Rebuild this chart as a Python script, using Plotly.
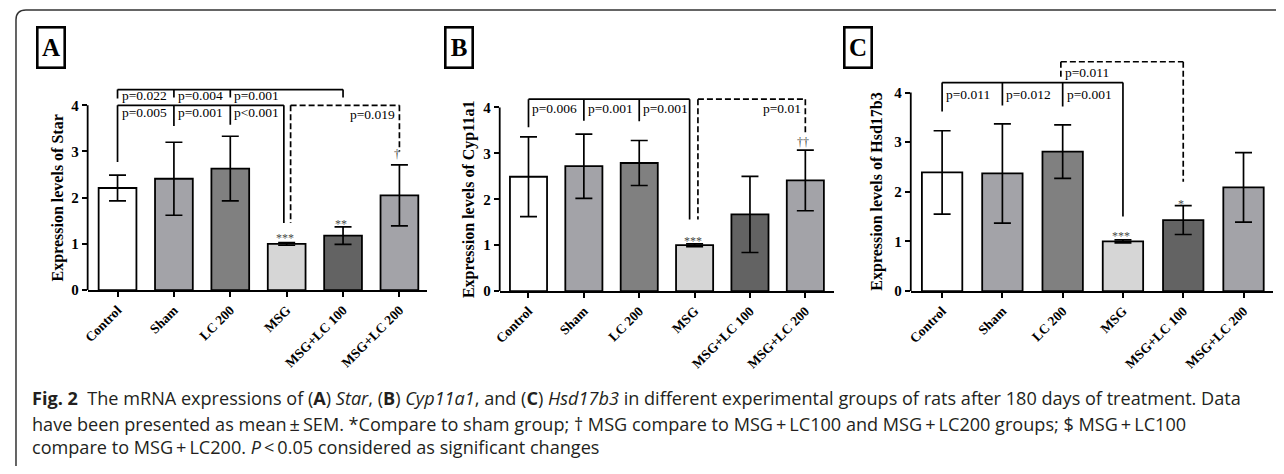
import plotly.graph_objects as go

# ---------------- data ----------------
categories = ["Control", "Sham", "LC 200", "MSG", "MSG+LC 100", "MSG+LC 200"]
star_mean = [2.21, 2.41, 2.63, 1.00, 1.18, 2.05]
star_sem = [0.28, 0.79, 0.70, 0.03, 0.19, 0.66]
cyp_mean = [2.49, 2.72, 2.79, 1.00, 1.67, 2.41]
cyp_sem = [0.87, 0.70, 0.49, 0.03, 0.83, 0.66]
hsd_mean = [2.39, 2.37, 2.81, 1.00, 1.43, 2.09]
hsd_sem = [0.84, 1.00, 0.54, 0.03, 0.29, 0.70]
y_ticks = [0, 1, 2, 3, 4]
bar_colors = ["#ffffff", "#a3a3a8", "#808080", "#d6d6d6", "#636363", "#a3a3a8"]

# page body has an 8px margin: the figure is placed at (8, 8)
OFF = 8
W, H = 1284 - OFF, 474 - OFF
SERIF = "Liberation Serif, Times New Roman, serif"
SANS = "Open Sans, Noto Sans, sans-serif"


def px(x):
    return (x - OFF) / W


def py(y):
    return 1 - (y - OFF) / H


fig = go.Figure()

# panel geometry (screen pixels): x-axis start/end, y of 0, px per unit
panels = [
    dict(name="A", gene="Star", mean=star_mean, sem=star_sem,
         x0=82, x1=423, y0=295, unit=47.0, xr=[-0.53, 5.49], letter_x=45, title_x=52),
    dict(name="B", gene="Cyp11a1", mean=cyp_mean, sem=cyp_sem,
         x0=496, x1=832, y0=296, unit=46.7, xr=[-0.52, 5.52], letter_x=455.5, title_x=465),
    dict(name="C", gene="Hsd17b3", mean=hsd_mean, sem=hsd_sem,
         x0=909, x1=1273, y0=296, unit=50.5, xr=[-0.52, 5.49], letter_x=856, title_x=875),
]
YMAX = 4.75

shapes = []
annotations = []

for i, p in enumerate(panels):
    sfx = "" if i == 0 else str(i + 1)
    xa, ya = "x" + sfx, "y" + sfx
    fig.add_trace(go.Bar(
        x=categories, y=p["mean"], xaxis=xa, yaxis=ya, width=0.67,
        marker=dict(color=bar_colors, line=dict(color="black", width=1.8)),
        error_y=dict(type="data", array=p["sem"], visible=True, color="black",
                     thickness=1.7, width=8.5),
        showlegend=False, hoverinfo="skip",
    ))
    top_px = p["y0"] - YMAX * p["unit"]
    fig.update_layout(**{
        "xaxis" + sfx: dict(domain=[px(p["x0"]), px(p["x1"])], anchor=ya,
                            range=p["xr"], showline=True, linecolor="black", linewidth=1.8,
                            ticks="outside", ticklen=5, tickwidth=1.7, tickcolor="black",
                            tickangle=-45, showgrid=False, zeroline=False,
                            tickfont=dict(family=SERIF, size=13.5, color="black", weight="bold")),
        "yaxis" + sfx: dict(domain=[py(p["y0"]), py(top_px)], anchor=xa,
                            range=[0, YMAX], tickvals=y_ticks, showline=False, showgrid=False,
                            zeroline=False, ticks="outside", ticklen=5, tickwidth=1.7,
                            tickcolor="black",
                            tickfont=dict(family=SERIF, size=15, color="black", weight="bold")),
    })
    # y axis line from 0 to 4
    shapes.append(dict(type="line", xref=xa + " domain", yref=ya, x0=0, x1=0, y0=0, y1=4,
                       line=dict(color="black", width=1.8)))
    # y title
    annotations.append(dict(text="Expression levels of " + p["gene"], xref="paper", yref="paper",
                            x=px(p["title_x"]), y=py(p["y0"] - 2 * p["unit"]), textangle=-90,
                            showarrow=False, xanchor="center", yanchor="middle",
                            font=dict(family=SERIF, size=16, color="black", weight="bold")))
    # panel letter
    annotations.append(dict(text="<b>" + p["name"] + "</b>", xref="paper", yref="paper",
                            x=px(p["letter_x"]), y=py(48), showarrow=False,
                            xanchor="center", yanchor="middle", width=24, height=37,
                            bordercolor="black", borderwidth=2.6, borderpad=0.5,
                            font=dict(family=SERIF, size=25, color="black")))


def bracket(i, y, xs, ends, dash="solid"):
    """Horizontal line at y spanning xs[0]..xs[-1], vertical drops to ends."""
    sfx = "" if i == 0 else str(i + 1)
    xa, ya = "x" + sfx, "y" + sfx
    shapes.append(dict(type="line", xref=xa, yref=ya, x0=xs[0], x1=xs[-1], y0=y, y1=y,
                       line=dict(color="black", width=1.7, dash=dash)))
    for x, e in zip(xs, ends):
        shapes.append(dict(type="line", xref=xa, yref=ya, x0=x, x1=x, y0=y, y1=e,
                           line=dict(color="black", width=1.7, dash=dash)))


def label(i, x, y, text, anchor="left", size=13.5, color="black", xshift=2):
    sfx = "" if i == 0 else str(i + 1)
    annotations.append(dict(text=text, xref="x" + sfx, yref="y" + sfx, x=x, y=y,
                            showarrow=False, xanchor=anchor, yanchor="middle",
                            xshift=xshift if anchor == "left" else -xshift,
                            font=dict(family=SERIF, size=size, color=color)))


DASH = "6px,3px"
MARK = "#4a4a4a"

# ---- Panel A ----
bracket(0, 4.34, [0, 1, 2, 4], [4.15, 4.17, 4.17, 4.17])
bracket(0, 4.0, [0, 1, 2, 2.95], [2.77, 3.55, 3.58, 1.45])
bracket(0, 4.0, [3.07, 5], [1.45, 3.0], dash=DASH)
for x, t in zip([0, 1, 2], ["p=0.022", "p=0.004", "p=0.001"]):
    label(0, x, 4.21, t)
for x, t in zip([0, 1, 2], ["p=0.005", "p=0.001", "p<0.001"]):
    label(0, x, 3.84, t)
label(0, 5, 3.81, "p=0.019", anchor="right")
label(0, 3, 1.12, "***", anchor="center", size=12, color=MARK)
label(0, 4, 1.42, "**", anchor="center", size=12, color=MARK)
label(0, 5, 2.95, "†", anchor="center", size=12, color=MARK)

# ---- Panel B ----
bracket(1, 4.18, [0, 1, 2, 2.91], [3.57, 3.71, 3.70, 1.56])
bracket(1, 4.18, [3.06, 5], [1.56, 3.41], dash=DASH)
for x, t in zip([0, 1, 2], ["p=0.006", "p=0.001", "p=0.001"]):
    label(1, x, 3.98, t)
label(1, 5, 3.98, "p=0.01", anchor="right")
label(1, 3, 1.09, "***", anchor="center", size=12, color=MARK)
label(1, 5, 3.25, "††", anchor="center", size=12, color=MARK)

# ---- Panel C ----
bracket(2, 4.2, [0, 1, 2, 3], [3.62, 3.74, 3.72, 1.5])
bracket(2, 4.62, [1.97, 4], [4.3, 2.2], dash=DASH)
label(2, 1.97, 4.41, "p=0.011")
for x, t in zip([0, 1, 2], ["p=0.011", "p=0.012", "p=0.001"]):
    label(2, x, 3.97, t)
label(2, 3, 1.1, "***", anchor="center", size=12, color=MARK)
label(2, 4, 1.76, "*", anchor="center", size=12, color=MARK)

# ---- frame ----
r = 10
frame_path = (f"M {px(10)},{py(474)} L {px(10)},{py(10 + r)} "
              f"Q {px(10)},{py(10)} {px(10 + r)},{py(10)} L {px(1284)},{py(10)}")
shapes.append(dict(type="path", xref="paper", yref="paper", path=frame_path,
                   line=dict(color="#333", width=1.5)))

# ---- caption ----
plus = "\u2009+\u2009"
caption_lines = [
    "<b>Fig. 2</b>  The mRNA expressions of (<b>A</b>) <i>Star</i>, (<b>B</b>) <i>Cyp11a1</i>, and (<b>C</b>) "
    "<i>Hsd17b3</i> in different experimental groups of rats after 180 days of treatment. Data",
    "have been presented as mean\u2009±\u2009SEM. *Compare to sham group; † MSG compare to MSG" + plus +
    "LC100 and MSG" + plus + "LC200 groups; $ MSG" + plus + "LC100",
    "compare to MSG" + plus + "LC200. <i>P</i>\u2009<\u20090.05 considered as significant changes",
]
for yy, t in zip([405, 431, 455], caption_lines):
    annotations.append(dict(text=t, xref="paper", yref="paper", x=px(24), y=py(yy),
                            xanchor="left", yanchor="middle", showarrow=False,
                            font=dict(family=SANS, size=18.1, color="#231f20")))

fig.update_layout(width=W, height=H, margin=dict(l=0, r=0, t=0, b=0),
                  paper_bgcolor="white", plot_bgcolor="white", showlegend=False,
                  shapes=shapes, annotations=annotations)

fig.write_html("out.html")
